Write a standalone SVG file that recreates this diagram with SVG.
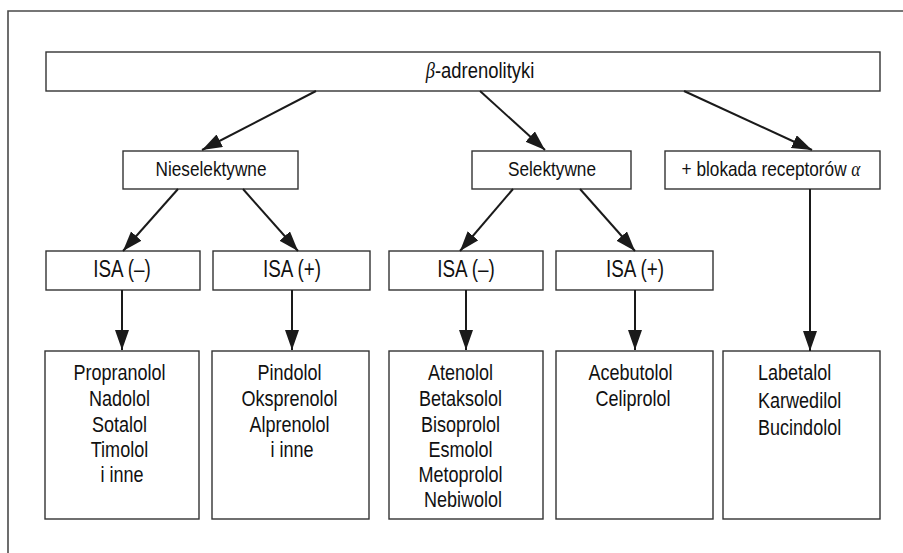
<svg xmlns="http://www.w3.org/2000/svg" width="903" height="553" viewBox="0 0 903 553">
  <style>
    .box { fill: #ffffff; stroke: #333333; stroke-width: 1.4; }
    .frame { fill: none; stroke: #4a4a4a; stroke-width: 1.6; }
    .lbl { font-family: "Liberation Sans", Arial, sans-serif; font-size: 21px; fill: #111111; }
    .mid { text-anchor: middle; }
    .drug { font-size: 22px; }
    .isa { font-size: 23px; }
    .greek { font-family: "Liberation Serif", "DejaVu Serif", serif; font-style: italic; }
    .conn line { stroke: #1a1a1a; stroke-width: 2; }
  </style>
  <defs>
    <marker id="arrow" markerUnits="userSpaceOnUse" markerWidth="21" markerHeight="15" refX="20" refY="7" orient="auto">
      <path d="M0,0 L20,7 L0,14 Z" fill="#1a1a1a"/>
    </marker>
  </defs>

  <rect width="903" height="553" fill="#ffffff"/>
  <!-- page frame -->
  <path class="frame" d="M8,553 L8,11 L903,11"/>

  <!-- labels are set in a condensed face: Liberation Sans squeezed to 82 % width -->
  <g id="root">
    <rect class="box" x="46" y="52" width="834" height="39"/>
    <text class="lbl mid" style="font-size:22.5px" transform="translate(480,0) scale(0.82,1)" x="0" y="78"><tspan class="greek">β</tspan>-adrenolityki</text>
  </g>

  <g id="nieselektywne">
    <rect class="box" x="123" y="151" width="175" height="38"/>
    <text class="lbl mid" transform="translate(211,0) scale(0.82,1)" x="0" y="176">Nieselektywne</text>
  </g>
  <g id="selektywne">
    <rect class="box" x="472" y="151" width="159" height="38"/>
    <text class="lbl mid" transform="translate(552,0) scale(0.82,1)" x="0" y="176">Selektywne</text>
  </g>
  <g id="alfa">
    <rect class="box" x="665" y="151" width="215" height="38"/>
    <text class="lbl mid" transform="translate(771,0) scale(0.82,1)" x="0" y="176">+ blokada receptorów <tspan class="greek">α</tspan></text>
  </g>

  <g id="isa-minus-1">
    <rect class="box" x="46" y="251" width="154" height="39"/>
    <text class="lbl isa mid" transform="translate(122,0) scale(0.82,1)" x="0" y="277">ISA (–)</text>
  </g>
  <g id="isa-plus-1">
    <rect class="box" x="213" y="251" width="157" height="39"/>
    <text class="lbl isa mid" transform="translate(292,0) scale(0.82,1)" x="0" y="277">ISA (+)</text>
  </g>
  <g id="isa-minus-2">
    <rect class="box" x="389" y="251" width="154" height="39"/>
    <text class="lbl isa mid" transform="translate(466,0) scale(0.82,1)" x="0" y="277">ISA (–)</text>
  </g>
  <g id="isa-plus-2">
    <rect class="box" x="556" y="251" width="157" height="39"/>
    <text class="lbl isa mid" transform="translate(635,0) scale(0.82,1)" x="0" y="277">ISA (+)</text>
  </g>

  <g id="drugs-1">
    <rect class="box" x="45" y="351" width="154" height="168"/>
    <text class="lbl drug mid" transform="translate(122,0) scale(0.82,1)">
      <tspan x="0" y="380">Propranolol</tspan>
      <tspan x="0" y="406">Nadolol</tspan>
      <tspan x="0" y="432">Sotalol</tspan>
      <tspan x="0" y="457">Timolol</tspan>
      <tspan x="0" y="482">i inne</tspan>
    </text>
  </g>
  <g id="drugs-2">
    <rect class="box" x="212" y="351" width="157" height="168"/>
    <text class="lbl drug mid" transform="translate(292,0) scale(0.82,1)">
      <tspan x="0" y="380">Pindolol</tspan>
      <tspan x="0" y="406">Oksprenolol</tspan>
      <tspan x="0" y="432">Alprenolol</tspan>
      <tspan x="0" y="457">i inne</tspan>
    </text>
  </g>
  <g id="drugs-3">
    <rect class="box" x="389" y="351" width="154" height="168"/>
    <text class="lbl drug mid" transform="translate(463,0) scale(0.82,1)">
      <tspan x="0" y="380">Atenolol</tspan>
      <tspan x="0" y="406">Betaksolol</tspan>
      <tspan x="0" y="432">Bisoprolol</tspan>
      <tspan x="0" y="457">Esmolol</tspan>
      <tspan x="0" y="482">Metoprolol</tspan>
      <tspan x="0" y="507">Nebiwolol</tspan>
    </text>
  </g>
  <g id="drugs-4">
    <rect class="box" x="556" y="351" width="157" height="168"/>
    <text class="lbl drug mid" transform="translate(633,0) scale(0.82,1)">
      <tspan x="0" y="380">Acebutolol</tspan>
      <tspan x="0" y="406">Celiprolol</tspan>
    </text>
  </g>
  <g id="drugs-5">
    <rect class="box" x="723" y="351" width="157" height="168"/>
    <text class="lbl drug" transform="translate(758,0) scale(0.82,1)">
      <tspan x="0" y="380">Labetalol</tspan>
      <tspan x="0" y="408">Karwedilol</tspan>
      <tspan x="0" y="435">Bucindolol</tspan>
    </text>
  </g>

  <g id="connectors" class="conn">
    <line x1="316" y1="91" x2="202" y2="150" marker-end="url(#arrow)"/>
    <line x1="480" y1="91" x2="545" y2="150" marker-end="url(#arrow)"/>
    <line x1="684" y1="91" x2="812" y2="150" marker-end="url(#arrow)"/>
    <line x1="178" y1="189" x2="123" y2="251" marker-end="url(#arrow)"/>
    <line x1="243" y1="189" x2="298" y2="251" marker-end="url(#arrow)"/>
    <line x1="513" y1="189" x2="460" y2="251" marker-end="url(#arrow)"/>
    <line x1="580" y1="189" x2="635" y2="251" marker-end="url(#arrow)"/>
    <line x1="122" y1="290" x2="122" y2="350" marker-end="url(#arrow)"/>
    <line x1="292" y1="290" x2="292" y2="350" marker-end="url(#arrow)"/>
    <line x1="466" y1="290" x2="466" y2="350" marker-end="url(#arrow)"/>
    <line x1="635" y1="290" x2="635" y2="350" marker-end="url(#arrow)"/>
    <line x1="810" y1="189" x2="810" y2="351" marker-end="url(#arrow)"/>
  </g>
</svg>
